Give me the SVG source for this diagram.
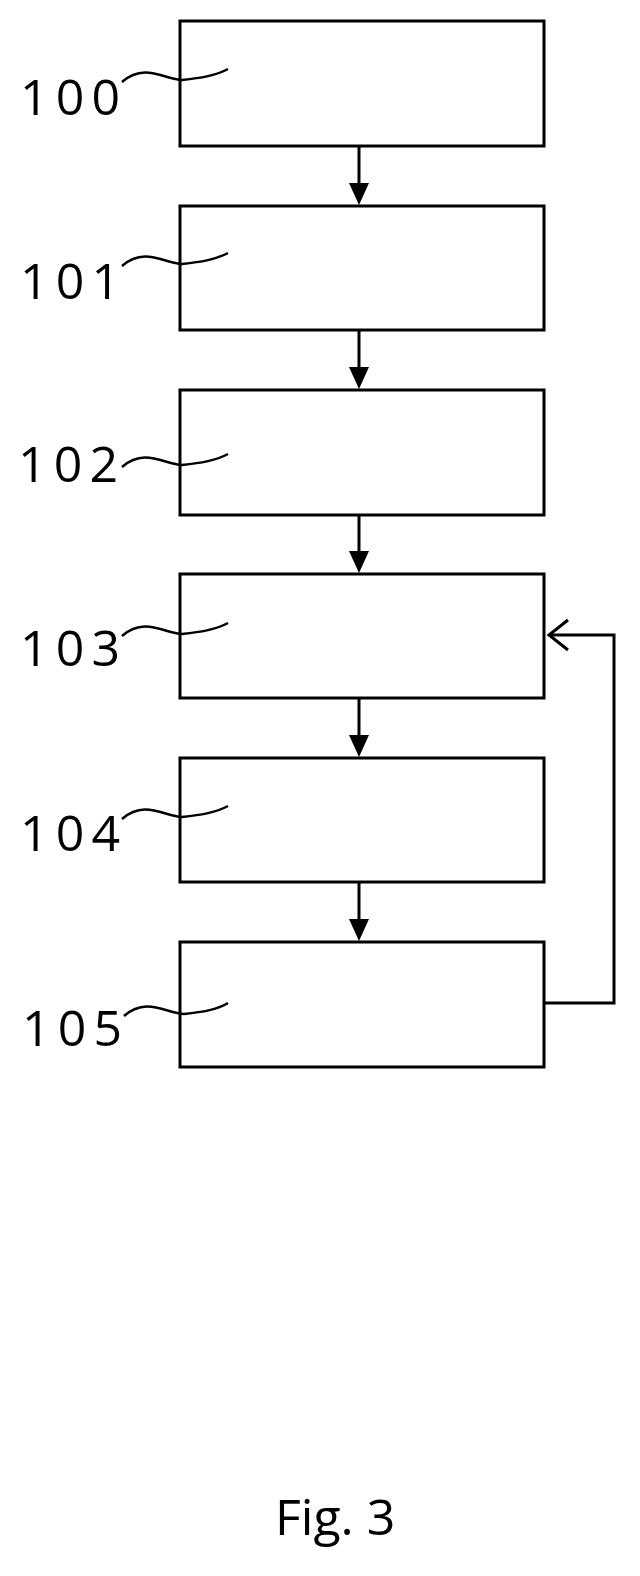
<svg xmlns="http://www.w3.org/2000/svg" width="640" height="1576" viewBox="0 0 640 1576">
<style>
.b{fill:none;stroke:#000;stroke-width:3}
.c{fill:none;stroke:#000;stroke-width:3}
.l{fill:none;stroke:#000;stroke-width:2.5}
text{font-family:"Open Sans","Liberation Sans",sans-serif;font-size:50px;fill:#000}
</style>
<defs><marker id="a" markerWidth="8" markerHeight="8" refX="7" refY="4" orient="auto" markerUnits="userSpaceOnUse" viewBox="0 0 8 8"><path d="M0,0L8,4L0,8z" fill="#000"/></marker></defs>
<rect width="640" height="1576" fill="#fff"/>
<g id="n100"><rect class="b" x="180" y="21" width="364" height="125"/><text x="20" y="115" textLength="100">100</text><path class="l" d="M122,82 C145,62 165,80 182,80 C200,78 215,76 228,69"/></g>
<g id="n101"><rect class="b" x="180" y="206" width="364" height="124"/><text x="20" y="299" textLength="100">101</text><path class="l" d="M122,266 C145,246 165,264 182,264 C200,262 215,260 228,253"/></g>
<g id="n102"><rect class="b" x="180" y="390" width="364" height="125"/><text x="18" y="482" textLength="100">102</text><path class="l" d="M122,467 C145,447 165,465 182,465 C200,463 215,461 228,454"/></g>
<g id="n103"><rect class="b" x="180" y="574" width="364" height="124"/><text x="20" y="666" textLength="100">103</text><path class="l" d="M122,636 C145,616 165,634 182,634 C200,632 215,630 228,623"/></g>
<g id="n104"><rect class="b" x="180" y="758" width="364" height="124"/><text x="20" y="851" textLength="100">104</text><path class="l" d="M122,819 C145,799 165,817 182,817 C200,815 215,813 228,806"/></g>
<g id="n105"><rect class="b" x="180" y="942" width="364" height="125"/><text x="22" y="1046" textLength="100">105</text><path class="l" d="M124,1016 C147,996 167,1014 184,1014 C202,1012 217,1010 228,1003"/></g>
<g id="connectors">
<path class="c" d="M359,146V190"/><path d="M349,183L369,183L359,205z"/>
<path class="c" d="M359,330V374"/><path d="M349,367L369,367L359,389z"/>
<path class="c" d="M359,515V558"/><path d="M349,551L369,551L359,573z"/>
<path class="c" d="M359,698V742"/><path d="M349,735L369,735L359,757z"/>
<path class="c" d="M359,882V926"/><path d="M349,919L369,919L359,941z"/>
<path class="c" d="M544,1003H614V635H549"/><path class="c" d="M568,620L549,635L568,650"/>
</g>
<text x="275" y="1535" style="font-size:50px">Fig. 3</text>
</svg>
